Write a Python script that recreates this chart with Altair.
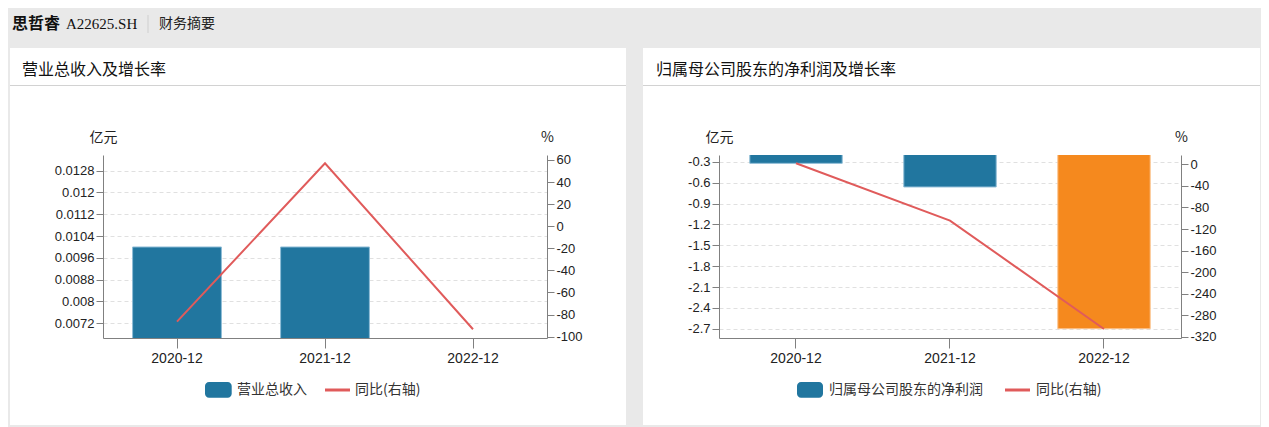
import altair as alt
import pandas as pd

# ---------------- data ----------------
periods = ["2020-12", "2021-12", "2022-12"]
revenue = [0.01, 0.01, None]            # 亿元
revenue_yoy = [-86.4, 57.0, -93.3]      # %
net_profit = [-0.32, -0.66, -2.7]       # 亿元
net_profit_yoy = [1.8, -104.3, -305.2]  # %
profit_kind = ["normal", "normal", "latest"]
revenue_kind = ["normal", "normal", "normal"]

rev_ticks = [0.0072, 0.008, 0.0088, 0.0096, 0.0104, 0.0112, 0.012, 0.0128]
rev_yoy_ticks = [-100, -80, -60, -40, -20, 0, 20, 40, 60]
np_ticks = [-2.7, -2.4, -2.1, -1.8, -1.5, -1.2, -0.9, -0.6, -0.3]
np_yoy_ticks = [0, -40, -80, -120, -160, -200, -240, -280, -320]

rev_domain = [0.00666, 0.013376]
rev_yoy_domain = [-101.2, 64.5]
np_domain = [-2.834, -0.2]
np_yoy_domain = [-321.9, 17.2]

# ---------------- style ----------------
BLUE = "#21769f"
BLUE_EDGE = "#8dbcd6"
ORANGE = "#f5891e"
ORANGE_EDGE = "#fbc28c"
RED = "#e05b5b"
GREY = "#e9e9e9"
AX = "#808080"
CJK = "Noto Sans CJK SC"
LAT = "Liberation Sans, Noto Sans CJK SC"

one = pd.DataFrame({"k": [0]})


def box(x, x2, y, y2, color=GREY, r=0):
    return alt.Chart(one).mark_rect(color=color, cornerRadius=r).encode(
        x=alt.value(x), x2=alt.value(x2), y=alt.value(y), y2=alt.value(y2)
    )


def hline(x, x2, y, color, w=1):
    return alt.Chart(one).mark_rule(color=color, strokeWidth=w).encode(
        x=alt.value(x), x2=alt.value(x2), y=alt.value(y)
    )


def vline(x, y, y2, color, w=1):
    return alt.Chart(one).mark_rule(color=color, strokeWidth=w).encode(
        x=alt.value(x), y=alt.value(y), y2=alt.value(y2)
    )


def txt(text, x, y, size, color="#222", weight="normal", font=CJK):
    return alt.Chart(one).mark_text(
        align="left", baseline="middle", fontSize=size, font=font,
        fontWeight=weight, color=color
    ).encode(x=alt.value(x), y=alt.value(y), text=alt.value(text))


def panel(df, width, bar_domain, bar_ticks, line_domain, line_ticks, decos):
    x = alt.X(
        "period:N", sort=periods, title=None,
        scale=alt.Scale(paddingInner=0.4, paddingOuter=0.2),
        axis=alt.Axis(labelAngle=0, tickSize=10, labelPadding=3,
                      labelFontSize=14, grid=False),
    )
    bars = alt.Chart(df).mark_bar(clip=True, strokeWidth=1).encode(
        x=x,
        y=alt.Y(
            "value:Q", title="亿元",
            scale=alt.Scale(domain=bar_domain, nice=False, zero=False),
            axis=alt.Axis(values=bar_ticks, labelExpr="toString(datum.value)",
                          grid=True, gridDash=[4, 3], gridColor="#e0e0e0",
                          tickSize=7, labelPadding=2, titleAngle=0, titleX=0,
                          titleY=-18, titleAlign="center", titleBaseline="middle"),
        ),
        y2=alt.datum(0),
        color=alt.Color("kind:N", scale=alt.Scale(domain=["normal", "latest"],
                        range=[BLUE, ORANGE]), legend=None),
        stroke=alt.Stroke("kind:N", scale=alt.Scale(domain=["normal", "latest"],
                          range=[BLUE_EDGE, ORANGE_EDGE]), legend=None),
    )
    line = alt.Chart(df).mark_line(color=RED, strokeWidth=2).encode(
        x=x,
        y=alt.Y(
            "yoy:Q", title="%",
            scale=alt.Scale(domain=line_domain, nice=False, zero=False),
            axis=alt.Axis(orient="right", values=line_ticks, grid=False,
                          labelExpr="toString(datum.value)",
                          tickSize=7, labelPadding=2, titleAngle=0, titleX=0,
                          titleY=-18, titleAlign="center", titleBaseline="middle"),
        ),
    )
    return alt.layer(*decos, bars, line).resolve_scale(y="independent").properties(
        width=width, height=183
    )


rev_df = pd.DataFrame({"period": periods, "value": revenue, "yoy": revenue_yoy,
                       "kind": revenue_kind})
np_df = pd.DataFrame({"period": periods, "value": net_profit, "yoy": net_profit_yoy,
                      "kind": profit_kind})

# left panel decorations (coordinates relative to plot origin)
left_decos = [
    box(-95, 532, -147, -107),
    box(-95, -93, -107, 272),
    box(523, 532, -107, 272),
    box(-95, 532, 270, 272),
    txt("思哲睿", -91, -131, 16, "#111", "bold"),
    txt("A22625.SH", -37, -131, 15, "#111", "normal", "Liberation Serif"),
    vline(45, -140, -122, "#cfcfcf"),
    txt("财务摘要", 56, -131, 14, "#222"),
    txt("营业总收入及增长率", -81, -85, 16, "#111"),
    hline(-93, 523, -69.5, "#d2d2d2"),
    box(102, 128.7, 227, 242.7, BLUE, 4),
    txt("营业总收入", 134, 235, 14, "#333"),
    hline(222, 247, 235, RED, 3),
    txt("同比(右轴)", 252, 235, 14, "#333"),
]

right_decos = [
    box(-84, 542, -147, -107),
    box(-84, -76, -107, 272),
    box(541, 542, -107, 272),
    box(-84, 542, 270, 272),
    txt("归属母公司股东的净利润及增长率", -63, -85, 16, "#111"),
    hline(-76, 541, -69.5, "#d2d2d2"),
    box(78, 104, 227, 242.7, BLUE, 4),
    txt("归属母公司股东的净利润", 110, 235, 14, "#333"),
    hline(286, 311, 235, RED, 3),
    txt("同比(右轴)", 317, 235, 14, "#333"),
]

left = panel(rev_df, 444, rev_domain, rev_ticks, rev_yoy_domain, rev_yoy_ticks, left_decos)
right = panel(np_df, 462, np_domain, np_ticks, np_yoy_domain, np_yoy_ticks, right_decos)

chart = (
    alt.hconcat(left, right, spacing=0)
    .properties(padding=0, background="white")
    .configure_view(stroke=None)
    .configure_axis(
        labelFont=LAT, labelFontSize=13, labelColor="#222",
        domainColor=AX, tickColor=AX,
        titleFont=CJK, titleFontSize=14, titleFontWeight="normal", titleColor="#222",
    )
)

chart.save("out.html", embed_options={"renderer": "svg", "actions": False})
